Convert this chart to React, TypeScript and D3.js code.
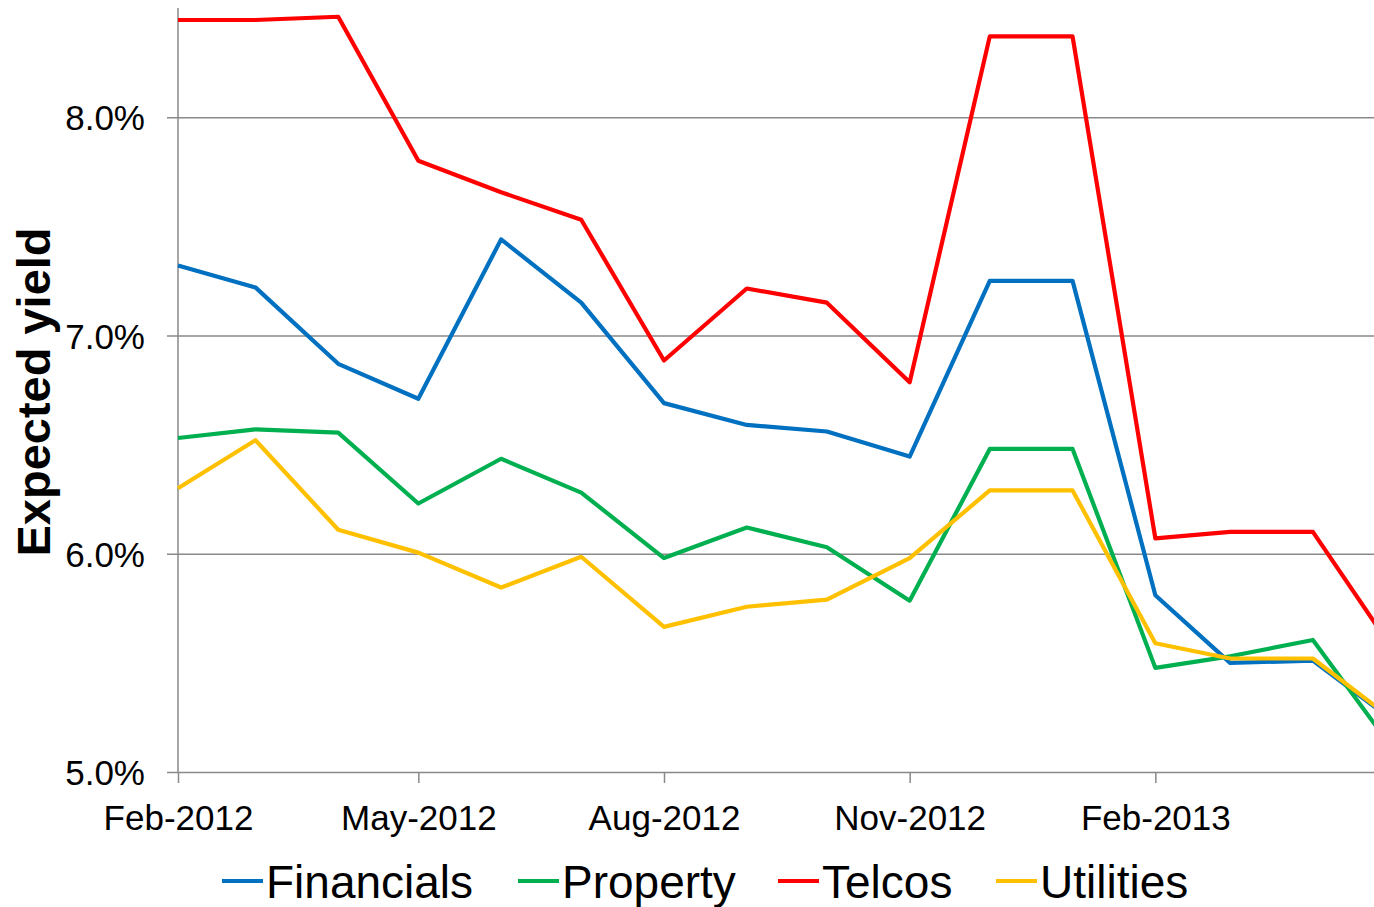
import * as d3 from "d3";
import { useEffect, useRef } from "react";

// monthly observations, Feb-2012 .. May-2013
const months = [
  "2012-02", "2012-03", "2012-04", "2012-05", "2012-06", "2012-07", "2012-08", "2012-09",
  "2012-10", "2012-11", "2012-12", "2013-01", "2013-02", "2013-03", "2013-04", "2013-05",
];

const financials = [7.32, 7.22, 6.87, 6.71, 7.44, 7.15, 6.69, 6.59, 6.56, 6.445, 7.25, 7.25, 5.81, 5.5, 5.51, 5.235];
const property = [6.53, 6.57, 6.555, 6.23, 6.435, 6.28, 5.98, 6.12, 6.03, 5.785, 6.48, 6.48, 5.477, 5.53, 5.605, 5.105];
const telcos = [8.445, 8.445, 8.46, 7.8, 7.656, 7.53, 6.885, 7.215, 7.15, 6.785, 8.37, 8.37, 6.07, 6.1, 6.1, 5.56];
const utilities = [6.3, 6.52, 6.11, 6.005, 5.845, 5.986, 5.665, 5.757, 5.79, 5.98, 6.29, 6.29, 5.59, 5.52, 5.52, 5.24];

const seriesNames = ["Financials", "Property", "Telcos", "Utilities"];
const seriesColors = ["#0070C0", "#00B050", "#FF0000", "#FFC000"];
const yTicks = [5, 6, 7, 8];
const xTickMonths = ["2012-02", "2012-05", "2012-08", "2012-11", "2013-02"];

export default function App() {
  const width = 1374;
  const height = 907;
  const marginLeft = 178;
  const marginTop = 8;
  const plotBottom = 772;
  const plotRight = 1393; // plot runs past the right edge of the picture

  const svgRef = useRef(null);

  useEffect(() => {
    const parse = d3.timeParse("%Y-%m");
    const dates = months.map(parse);
    const allSeries = [financials, property, telcos, utilities];

    const x = d3.scaleTime()
      .domain([dates[0], dates[dates.length - 1]])
      .range([marginLeft, plotRight]);

    const y = d3.scaleLinear()
      .domain([5, 8.5])
      .range([plotBottom, marginTop]);

    const svg = d3.select(svgRef.current);
    svg.selectAll("*").remove();

    const font = "Liberation Sans, Arial, sans-serif";
    const gray = "#898989";

    // horizontal gridlines + y axis ticks
    const yAxis = d3.axisLeft(y)
      .tickValues(yTicks)
      .tickFormat(d => `${d3.format(".1f")(d)}%`)
      .tickSize(-(plotRight - marginLeft))
      .tickSizeOuter(0);

    svg.append("g")
      .attr("transform", `translate(${marginLeft},0)`)
      .call(yAxis)
      .call(g => {
        g.select(".domain").remove();
        g.selectAll(".tick line")
          .attr("x1", -11)
          .attr("stroke", gray)
          .attr("stroke-width", 1.5);
        g.selectAll(".tick text")
          .attr("font-family", font)
          .attr("font-size", 35)
          .attr("fill", "#000")
          .attr("x", -33)
          .attr("dy", "0.36em");
      });

    // y axis line
    svg.append("line")
      .attr("x1", marginLeft).attr("x2", marginLeft)
      .attr("y1", marginTop).attr("y2", plotBottom)
      .attr("stroke", gray)
      .attr("stroke-width", 1.5);

    // x axis ticks
    const xAxis = d3.axisBottom(x)
      .tickValues(xTickMonths.map(parse))
      .tickFormat(d3.timeFormat("%b-%Y"))
      .tickSize(11)
      .tickSizeOuter(0)
      .tickPadding(22);

    svg.append("g")
      .attr("transform", `translate(0,${plotBottom})`)
      .call(xAxis)
      .call(g => {
        g.select(".domain").remove();
        g.selectAll(".tick line")
          .attr("stroke", gray)
          .attr("stroke-width", 1.5);
        g.selectAll(".tick text")
          .attr("font-family", font)
          .attr("font-size", 35)
          .attr("fill", "#000")
          .attr("dy", "0.71em");
      });

    // series lines
    const line = d3.line()
      .x((d, i) => x(dates[i]))
      .y(d => y(d));

    svg.append("g")
      .selectAll("path")
      .data(allSeries)
      .enter()
      .append("path")
      .attr("d", d => line(d))
      .attr("fill", "none")
      .attr("stroke", (d, i) => seriesColors[i])
      .attr("stroke-width", 4.2)
      .attr("stroke-linejoin", "round");

    // y axis title
    svg.append("text")
      .attr("transform", `translate(50,392) rotate(-90)`)
      .attr("text-anchor", "middle")
      .attr("font-family", font)
      .attr("font-weight", "bold")
      .attr("font-size", 47)
      .attr("fill", "#000")
      .text("Expected yield");

    // legend
    const legendX = [222, 518, 778, 996];
    const legend = svg.append("g")
      .selectAll("g")
      .data(seriesNames)
      .enter()
      .append("g")
      .attr("transform", (d, i) => `translate(${legendX[i]},0)`);

    legend.append("line")
      .attr("x1", 0).attr("x2", 41)
      .attr("y1", 881).attr("y2", 881)
      .attr("stroke", (d, i) => seriesColors[i])
      .attr("stroke-width", 4);

    legend.append("text")
      .attr("x", 44)
      .attr("y", 898)
      .attr("font-family", font)
      .attr("font-size", 46)
      .attr("fill", "#000")
      .text(d => d);
  }, []);

  return (
    <svg
      ref={svgRef}
      width={width}
      height={height}
      style={{ position: "absolute", left: 0, top: 0, background: "#fff" }}
    />
  );
}
